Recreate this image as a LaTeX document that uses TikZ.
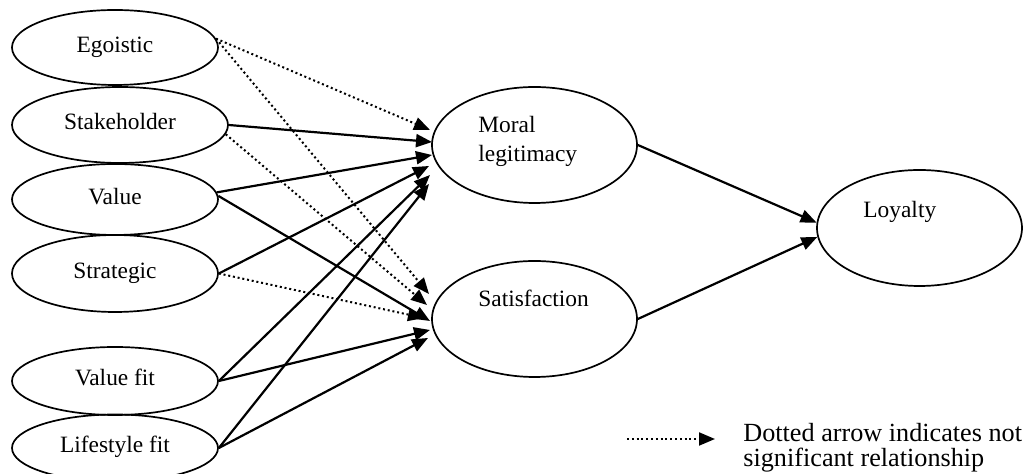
\documentclass[tikz,border=0pt]{standalone}
\usepackage{fontspec}
\setmainfont{Liberation Serif}
\usetikzlibrary{arrows.meta,shapes.geometric}
\begin{document}
\begin{tikzpicture}[x=0.5pt,y=-0.5pt,
  oval/.style={draw,ellipse,line width=0.85pt,inner sep=0pt,minimum width=103pt,
    font=\fontsize{11.7}{14}\selectfont,text height=0.7em,text depth=0.22em},
  bigoval/.style={draw,ellipse,line width=0.85pt,inner sep=0pt,minimum width=102.5pt,minimum height=58pt},
  lbl/.style={anchor=base west,inner sep=0pt,font=\fontsize{11.7}{14}\selectfont},
  leg/.style={anchor=base west,inner sep=0pt,font=\fontsize{13.1}{15}\selectfont},
  sig/.style={line width=1.1pt,-{Triangle[length=8pt,width=6.5pt]}},
  ns/.style={line width=1pt,dash pattern=on 1pt off 1.4pt,-{Triangle[length=8pt,width=6.5pt]}}
]
\useasboundingbox (0,0) rectangle (1029,474);
% left constructs
\node[oval,minimum height=37.5pt] (ego) at (115,47.5) {Egoistic};
\node[oval,minimum width=108pt,minimum height=38pt] (stake) at (120,125) {Stakeholder};
\node[oval,minimum height=35.5pt] (value) at (115,199.5) {Value};
\node[oval,minimum height=38.5pt] (strat) at (115,273.5) {Strategic};
\node[oval,minimum height=34pt] (vfit) at (115,381) {Value fit};
\node[oval,minimum height=33.5pt] (lfit) at (115,448) {Lifestyle fit};
% mediators and outcome
\node[bigoval] (moral) at (534.5,145) {};
\node[bigoval] (sat) at (534.5,319) {};
\node[bigoval] (loyal) at (919.5,228) {};
\node[lbl] (moralA) at (478,133) {Moral};
\node[lbl] (moralB) at (478,162) {legitimacy};
\node[lbl] (satT) at (478,307) {Satisfaction};
\node[lbl] (loyT) at (863,218) {Loyalty};
% arrow tips at mediators
\coordinate (m1) at (430,130);
\coordinate (m2) at (432,142);
\coordinate (m3) at (432,155);
\coordinate (m4) at (429,166);
\coordinate (m5) at (430,175);
\coordinate (m6) at (429,184);
\coordinate (s1) at (429,294);
\coordinate (s2) at (427,305);
\coordinate (s3) at (430,321);
\coordinate (s4) at (424,318);
\coordinate (s5) at (430,330);
\coordinate (s6) at (428,338);
% paths to Moral legitimacy
\draw[ns] (ego.5) -- (m1);
\draw[sig] (stake.east) -- (m2);
\draw[sig] (value.4) -- (m3);
\draw[sig] (strat.east) -- (m4);
\draw[sig] (vfit.east) -- (m5);
\draw[sig] (lfit.east) -- (m6);
% paths to Satisfaction
\draw[ns] (ego.5) -- (s1);
\draw[ns] (stake.-5) -- (s2);
\draw[sig] (value.2) -- (s3);
\draw[ns] (strat.east) -- (s4);
\draw[sig] (vfit.east) -- (s5);
\draw[sig] (lfit.east) -- (s6);
% to Loyalty
\draw[sig] (moral.east) -- (loyal.177);
\draw[sig] (sat.east) -- (loyal.185);
% legend
\coordinate (lgA) at (627,439);
\coordinate (lgB) at (715,439);
\draw[ns] (lgA) -- (lgB);
\node[leg] (leg1) at (743,442) {Dotted arrow indicates not};
\node[leg] (leg2) at (743,467) {significant relationship};
\end{tikzpicture}
\end{document}
